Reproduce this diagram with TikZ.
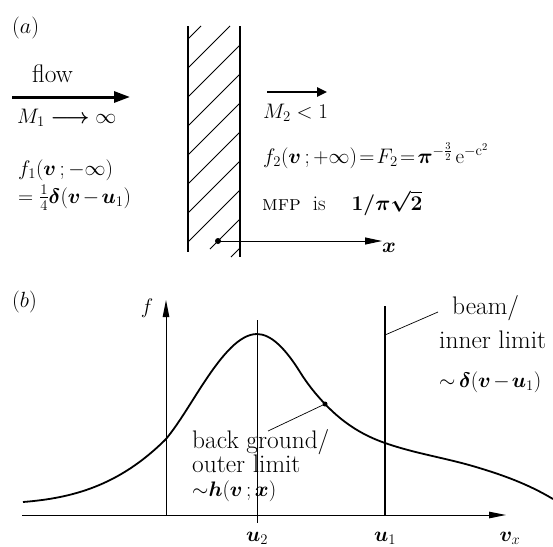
\RequirePackage{fix-cm}
\documentclass[tikz,border=0pt]{standalone}
\usepackage{amsmath,bm}
\usepackage{fontspec}
\usetikzlibrary{arrows.meta}
\begin{document}
\begin{tikzpicture}[x=1pt,y=-1pt,
  lbl/.style={inner sep=0pt, font=\fontsize{22}{26}\selectfont, anchor=base west},
  txt/.style={inner sep=0pt, font=\fontsize{25.4}{30}\selectfont, anchor=base west},
  mth/.style={inner sep=0pt, font=\fontsize{21}{25}\selectfont, anchor=base west},
  bigarrow/.style={line width=3pt, -{Triangle[length=16pt,width=11pt]}},
  midarrow/.style={line width=2.4pt, -{Triangle[length=10pt,width=9pt]}},
  axisa/.style={line width=0.9pt, -{Triangle[length=17pt,width=7pt]}},
  axisb/.style={line width=1pt, -{Triangle[length=17pt,width=6.5pt]}},
  wall/.style={line width=1.2pt},
  hatchline/.style={line width=0.8pt},
  curveline/.style={line width=1.8pt},
  leader/.style={line width=0.7pt},
  dotn/.style={circle, fill=black, inner sep=0pt, minimum size=6pt}]
\useasboundingbox (0,0) rectangle (553,546);
% ---------------- (a) ----------------
\node[lbl] (lbla) at (12,33) {$(a)$};
\node[txt] (flow) at (32,82) {flow};
\coordinate (flowA) at (12,97);
\coordinate (flowB) at (130,97);
\draw[bigarrow] (flowA) -- (flowB);
\node[mth] (m1) at (17,123) {$M_1\bm{\longrightarrow}\infty$};
\node[mth] (f1) at (18,175) {$f_1(\bm v\,;-\infty)$};
\node[mth] (f1b) at (18,203) {\medmuskip=2mu$=\tfrac14\bm\delta(\bm v-\bm u_1)$};
% wall
\coordinate (wl1) at (188,26); \coordinate (wl2) at (188,252);
\coordinate (wr1) at (240,26); \coordinate (wr2) at (240,257);
\draw[wall] (wl1) -- (wl2);
\draw[wall] (wr1) -- (wr2);
\foreach \k in {1,...,6}
  \draw[hatchline] (188,{271-29*\k}) -- (240,{219-29*\k});
\draw[hatchline] (188,68) -- (230,26);
\draw[hatchline] (188,39) -- (201,26);
\draw[hatchline] (210,249) -- (240,219);
\draw[hatchline] (231,257) -- (240,248);
% downstream
\coordinate (m2A) at (267,92);
\coordinate (m2B) at (327,92);
\draw[midarrow] (m2A) -- (m2B);
\node[mth] (m2) at (263,118) {$M_2<1$};
\node[mth] (f2) at (263,163) {\thickmuskip=2mu$f_2(\bm v\,;+\infty)=F_2=\bm\pi^{-\frac{3}{2}}\,\mathrm e^{-\mathrm c^2}$};
\node[mth] (mfp) at (262,210) {\textsc{mfp}\hspace{12pt}is\hspace{26pt}$\bm{1/\pi\sqrt2}$};
\node[dotn] (o) at (218,241) {};
\coordinate (xend) at (382,241);
\draw[axisa] (o.center) -- (xend);
\node[mth, anchor=base] (xl) at (389,252) {$\bm x$};
% ---------------- (b) ----------------
\node[lbl] (lblb) at (12,307) {$(b)$};
\coordinate (hstart) at (22,515);
\coordinate (hend) at (506,515);
\draw[axisb] (hstart) -- (hend);
\coordinate (fbot) at (166,515);
\coordinate (ftop) at (166,300);
\draw[axisb] (fbot) -- (ftop);
\node[mth, anchor=base] (fl) at (147,313) {$f$};
\coordinate (u2t) at (257,320); \coordinate (u2b) at (257,523);
\draw[line width=0.8pt] (u2t) -- (u2b);
\coordinate (u1t) at (385,306); \coordinate (u1b) at (385,515);
\draw[line width=1.2pt] (u1t) -- (u1b);
\draw[curveline] (23,502)
  .. controls (70.7,498.2) and (118.3,486.7) .. (166,439)
  .. controls (179,423.4) and (192,400.5) .. (205,381)
  .. controls (222.3,355) and (239.7,334) .. (257,334)
  .. controls (271.3,334) and (285.7,349.1) .. (300,372)
  .. controls (308.3,385.3) and (316.7,395.25) .. (325,404)
  .. controls (345,425) and (365,436) .. (385,443)
  .. controls (415.3,453.6) and (445.7,457.9) .. (476,467)
  .. controls (501.7,474.7) and (527.3,483.6) .. (553,499);
\node[dotn, minimum size=5pt] (bgdot) at (325,404) {};
\coordinate (bgend) at (268,431);
\draw[leader] (bgdot.center) -- (bgend);
\coordinate (bm1) at (385,335);
\coordinate (bm2) at (438,312);
\draw[leader] (bm1) -- (bm2);
\node[txt] (beam) at (452,314) {beam/};
\node[txt] (inner) at (439,348) {inner limit};
\node[mth] (dl) at (439,387) {\medmuskip=2mu$\mathord{\sim}\,\bm\delta(\bm v-\bm u_1)$};
\node[txt] (back) at (192,448) {back ground/};
\node[txt] (outer) at (192,472) {outer limit};
\node[mth] (hl) at (192,496) {$\mathord{\sim}\bm h(\bm v\,;\bm x)$};
\node[mth, anchor=base] (u2l) at (257,541) {$\bm u_2$};
\node[mth, anchor=base] (u1l) at (385,541) {$\bm u_1$};
\node[mth, anchor=base] (vxl) at (510,541) {$\bm v_x$};
\end{tikzpicture}
\end{document}
